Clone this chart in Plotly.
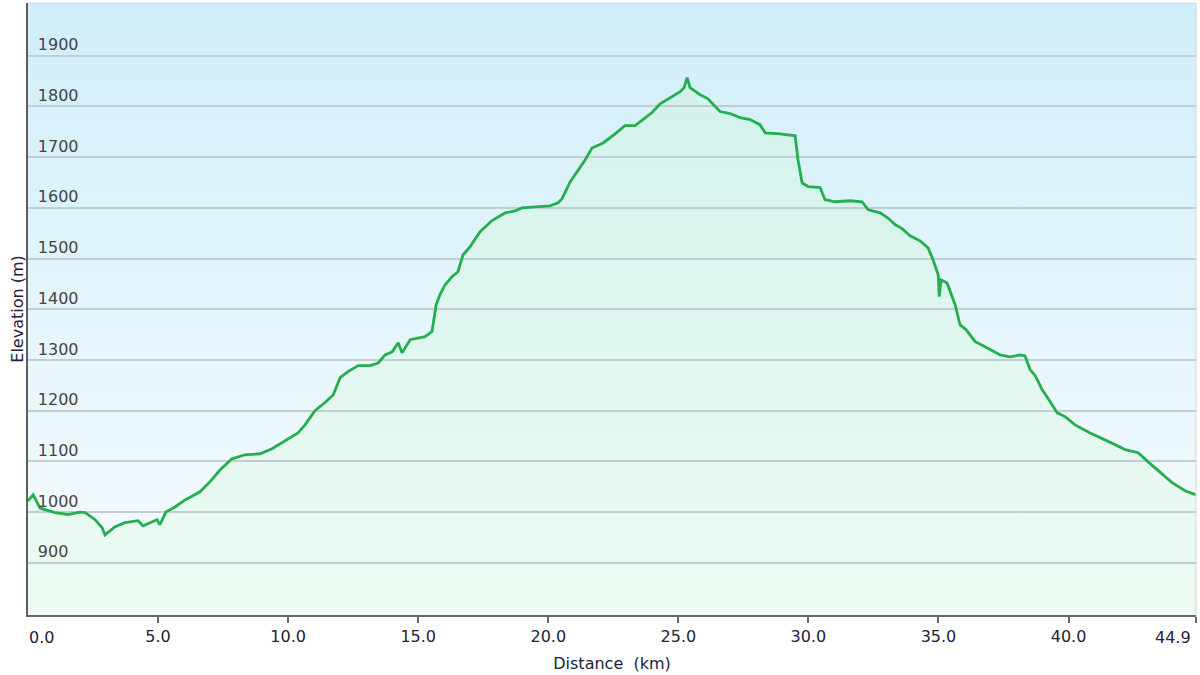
"""Elevation profile of the route (distance vs. elevation)."""
import plotly.graph_objects as go

# distance along the route (km)
distance_km = [
    0.0, 0.2, 0.46, 1.04, 1.54, 2.0, 2.2, 2.58, 2.85, 2.96, 3.08, 3.35, 3.73,
    4.23, 4.42, 4.69, 4.96, 5.07, 5.3, 5.65, 6.04, 6.61, 7.0, 7.38, 7.84,
    8.34, 8.92, 9.38, 9.88, 10.38, 10.65, 11.03, 11.42, 11.73, 12.0, 12.3,
    12.69, 13.15, 13.46, 13.73, 14.0, 14.23, 14.38, 14.69, 15.26, 15.53,
    15.69, 15.84, 16.03, 16.3, 16.53, 16.72, 16.99, 17.38, 17.84, 18.34,
    18.72, 18.99, 19.49, 20.07, 20.38, 20.53, 20.84, 21.22, 21.42, 21.68,
    22.11, 22.57, 22.95, 23.34, 23.72, 23.99, 24.3, 24.76, 25.07, 25.22,
    25.34, 25.45, 25.84, 26.14, 26.41, 26.6, 26.99, 27.37, 27.76, 28.14,
    28.34, 28.91, 29.49, 29.6, 29.76, 29.99, 30.45, 30.64, 31.03, 31.6,
    32.06, 32.3, 32.76, 33.06, 33.33, 33.6, 33.91, 34.29, 34.6, 34.76,
    34.99, 35.03, 35.1, 35.33, 35.64, 35.83, 36.06, 36.41, 36.72, 36.99,
    37.37, 37.76, 38.14, 38.33, 38.52, 38.72, 38.99, 39.29, 39.56, 39.87,
    40.25, 40.83, 41.41, 41.79, 42.18, 42.68, 43.06, 43.52, 43.98, 44.48,
    44.9,
]

# elevation (m)
elevation_m = [
    1022, 1034, 1008, 999, 995, 1000, 999, 985, 969, 955, 960, 971, 979,
    983, 973, 979, 985, 975, 1000, 1010, 1024, 1040, 1060, 1083, 1105,
    1113, 1115, 1125, 1141, 1156, 1172, 1200, 1216, 1231, 1265, 1277,
    1289, 1289, 1294, 1310, 1316, 1334, 1314, 1340, 1346, 1356,
    1409, 1429, 1448, 1464, 1474, 1507, 1523, 1553, 1575, 1590,
    1594, 1600, 1602, 1604, 1610, 1618, 1651, 1679, 1695, 1718,
    1728, 1746, 1762, 1762, 1778, 1788, 1805, 1819, 1829, 1837,
    1857, 1837, 1823, 1815, 1801, 1790, 1786, 1778, 1774, 1764,
    1748, 1746, 1742, 1695, 1649, 1642, 1640, 1616, 1612, 1614,
    1612, 1596, 1590, 1580, 1567, 1559, 1545, 1535, 1521, 1502,
    1468, 1425, 1458, 1452, 1409, 1369, 1360, 1336, 1328, 1320,
    1310, 1306, 1310, 1308, 1281, 1269, 1241, 1218, 1196, 1188,
    1172, 1156, 1143, 1133, 1123, 1117, 1099, 1079, 1058, 1042,
    1034,
]

y_ticks = [900, 1000, 1100, 1200, 1300, 1400, 1500, 1600, 1700, 1800, 1900]
x_ticks = [0.0, 5.0, 10.0, 15.0, 20.0, 25.0, 30.0, 35.0, 40.0, 44.9]
x_tick_labels = ["0.0", "5.0", "10.0", "15.0", "20.0", "25.0",
                 "30.0", "35.0", "40.0", "44.9"]

X_RANGE = [0, 44.9]
Y_RANGE = [797, 2004]
FONT = "DejaVu Sans"
TEXT_COLOR = "#22223a"

fig = go.Figure()

# sky gradient behind everything (bottom subplot, no grid)
fig.add_trace(go.Scatter(
    x=[X_RANGE[0], X_RANGE[1], X_RANGE[1], X_RANGE[0]],
    y=[Y_RANGE[0], Y_RANGE[0], Y_RANGE[1], Y_RANGE[1]],
    mode="lines", line=dict(width=0), fill="toself",
    fillgradient=dict(type="vertical", start=Y_RANGE[0], stop=Y_RANGE[1],
                      colorscale=[[0, "#f8fcff"], [1, "#d0eef9"]]),
    hoverinfo="skip", showlegend=False, xaxis="x", yaxis="y",
))

# area under the profile
fig.add_trace(go.Scatter(
    x=distance_km, y=elevation_m, mode="lines", line=dict(width=0),
    fill="tozeroy",
    fillgradient=dict(type="vertical", start=800, stop=1860,
                      colorscale=[[0, "#eefbf3"], [1, "#d2f2ec"]]),
    hoverinfo="skip", showlegend=False, xaxis="x", yaxis="y",
))

# profile line on the upper subplot, above its gridlines
fig.add_trace(go.Scatter(
    x=distance_km, y=elevation_m, mode="lines",
    line=dict(color="#25ae50", width=2.8),
    showlegend=False, xaxis="x2", yaxis="y2",
))

# tick texts: the two end labels are pulled inside the plot width
mid_text = [t if 0 < i < len(x_ticks) - 1 else "" for i, t in enumerate(x_tick_labels)]
end_labels = [
    dict(x=x_ticks[0], text=x_tick_labels[0], xanchor="left", xshift=-1),
    dict(x=x_ticks[-1], text=x_tick_labels[-1], xanchor="right", xshift=-3),
]

fig.update_layout(
    width=1200, height=675,
    margin=dict(l=28, r=4, t=3, b=60, autoexpand=False),
    paper_bgcolor="white",
    plot_bgcolor="rgba(0,0,0,0)",
    font=dict(family=FONT, size=16, color=TEXT_COLOR),
    xaxis=dict(range=X_RANGE, visible=False, domain=[0, 1]),
    yaxis=dict(range=Y_RANGE, visible=False, domain=[0, 1]),
    xaxis2=dict(
        range=X_RANGE, domain=[0, 1], anchor="y2", automargin=False,
        tickvals=x_ticks, ticktext=mid_text,
        ticks="outside", ticklen=6, tickwidth=2, tickcolor="#666666",
        showline=True, linecolor="#666666", linewidth=2,
        showgrid=False, zeroline=False,
        title=dict(text="Distance&nbsp; (km)", standoff=13,
                   font=dict(size=16, color=TEXT_COLOR)),
    ),
    yaxis2=dict(
        range=Y_RANGE, domain=[0, 1], anchor="x2", automargin=False,
        tickvals=y_ticks, ticklabelposition="inside",
        ticklabelstandoff=10, ticklabelshift=-11,
        showline=True, linecolor="#5e5e5e", linewidth=2,
        showgrid=True, gridcolor="#c0ced2", gridwidth=2,
        zeroline=False,
        title=dict(text="Elevation (m)", standoff=10,
                   font=dict(size=16, color=TEXT_COLOR)),
    ),
    annotations=[
        dict(xref="x2", yref="paper", y=0, yanchor="middle", yshift=-22,
             showarrow=False, font=dict(size=16, color=TEXT_COLOR), **a)
        for a in end_labels
    ],
    shapes=[
        dict(type="line", xref="paper", yref="paper", x0=0, x1=1, y0=1, y1=1,
             line=dict(color="#d4d4d4", width=1)),
        dict(type="line", xref="paper", yref="paper", x0=1, x1=1, y0=0, y1=1,
             line=dict(color="#d4d4d4", width=1)),
    ],
)

fig.write_html("out.html", config={"displayModeBar": False},
               post_script="document.body.style.margin = '0';")
